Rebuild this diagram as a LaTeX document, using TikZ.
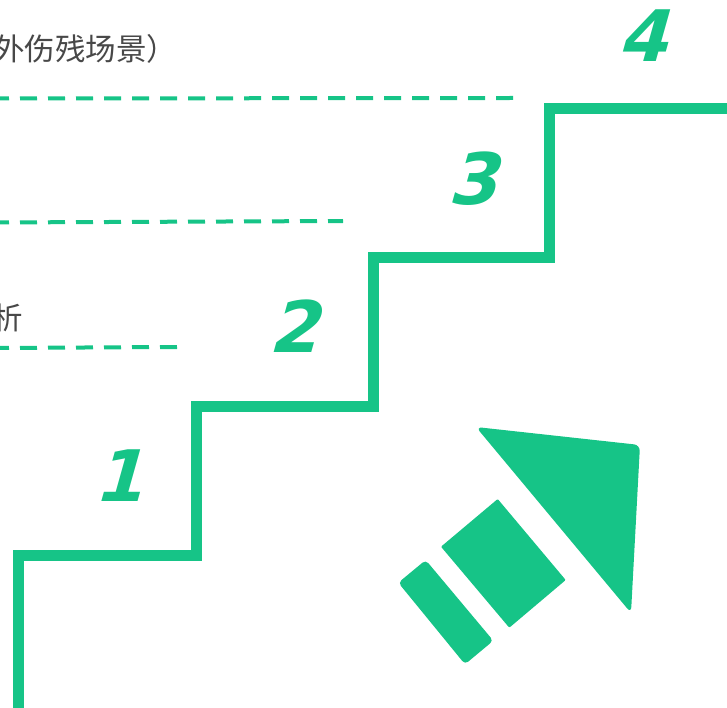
\documentclass[tikz,border=0pt]{standalone}
\usepackage{fontspec}
\newfontfamily\cjk{Noto Sans CJK SC}
\newfontfamily\numfont{DejaVu Sans}
\definecolor{stairgreen}{RGB}{22,196,135}
\definecolor{textgray}{RGB}{72,72,72}
\tikzset{
  stair/.style={line width=11pt, draw=stairgreen, line join=miter},
  guide/.style={line width=4pt, draw=stairgreen, dash pattern=on 17pt off 11pt},
  stepnum/.style={text=stairgreen, inner sep=0pt, anchor=base,
    xslant=0.28, transform shape,
    font=\numfont\bfseries\fontsize{71}{71}\selectfont},
  caption/.style={text=textgray, inner sep=0pt, anchor=west,
    font=\cjk\fontsize{30.5}{30.5}\selectfont},
  arrowpart/.style={fill=stairgreen, draw=none}
}
\begin{document}
\begin{tikzpicture}[x=1pt, y=-1pt]
\useasboundingbox (0,0) rectangle (727,708);

% Texts cut at the left edge
\node[caption] (topline) at (-6,49) {外伤残场景）};
\node[caption] (lowline) at (-8,318) {析};

% Dashed guide lines
\draw[guide] (-8,98.5) -- (513,98);
\draw[guide] (-8,222.5) -- (343,221);
\draw[guide] (-8,348) -- (177,347);

% Staircase
\draw[stair] (18.5,720) |- (196.5,555) |- (373,406.5) |- (549.5,258) |- (740,109);

% Step numbers
\node[stepnum] (one) at (118,501.5) {1};
\node[stepnum] (two) at (293,352.5) {2};
\node[stepnum] (three) at (472,204.5) {3};
\node[stepnum] (four) at (642,61.5) {4};

% Arrow
\fill[arrowpart, rounded corners=6pt] (476,427) -- (640,445) -- (631,613) -- cycle;
\fill[arrowpart, rounded corners=1pt] (497.7,499) -- (565.7,580) -- (509.3,627.7) -- (441,546.7) -- cycle;
\fill[arrowpart, rounded corners=4pt] (425.7,560) -- (493.3,640.7) -- (465,664.3) -- (398.3,582.7) -- cycle;

\end{tikzpicture}
\end{document}
